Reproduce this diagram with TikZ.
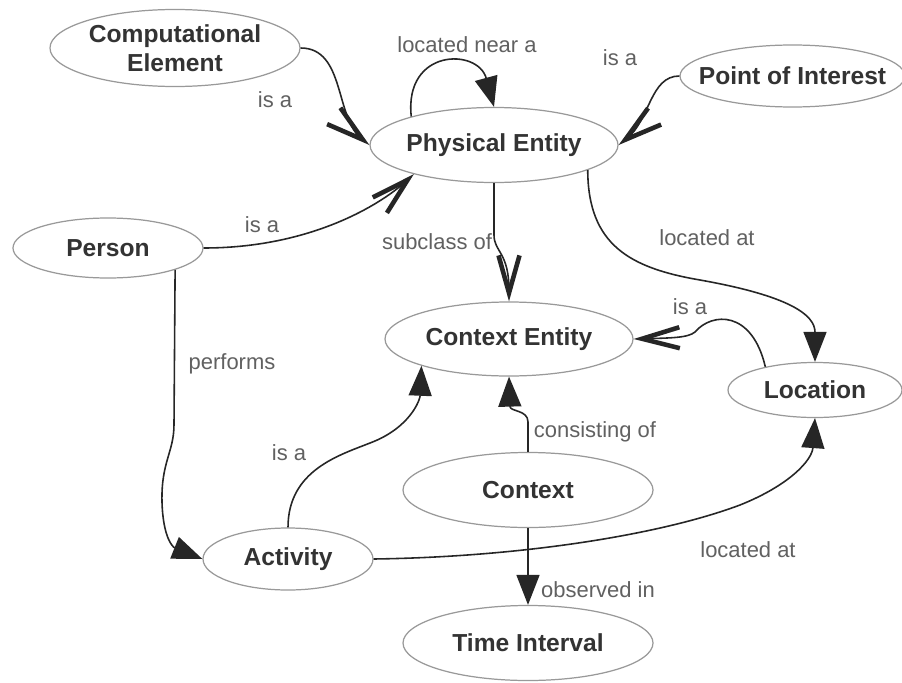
\documentclass[tikz,border=0pt]{standalone}
\usepackage{fontspec}
\setmainfont{Liberation Sans}
\usepackage{tikz}
\usetikzlibrary{shapes.geometric}
\usetikzlibrary{arrows.meta, arrows}
\definecolor{myline}{rgb}{0.6,0.6,0.6}
\definecolor{mytext}{rgb}{0.38,0.38,0.38}

\begin{document}
\begin{tikzpicture}
    % Define styles for concepts and relations
    \tikzstyle{concept}=[ellipse, draw=myline, line width=0.7pt, fill=white, inner sep=0pt, align=center, text=black!80, font=\fontsize{14}{16.5}\selectfont\bfseries]
    \tikzstyle{relation}=[line width=0.9pt, draw=black!85]
    \tikzstyle{isa}=[relation, -{Straight Barb[length=7.5mm, width=4.2mm, line width=2.6pt]}]
    \tikzstyle{prop}=[relation, -{Triangle[length=6mm, width=4.6mm]}]
    \tikzstyle{relname}=[text=mytext, font=\fontsize{12.5}{14}\selectfont]

    \useasboundingbox (0,0) rectangle (18.04,13.64);
    \fill[white] (0,0) rectangle (18.04,13.64);

    % Concepts
    \node[concept, minimum width=5cm, minimum height=1.54cm] (CE) at (3.5,12.68) {Computational\\Element};
    \node[concept, minimum width=4.5cm, minimum height=1.24cm, inner xsep=-0.3cm] (POI) at (15.85,12.12) {Point of Interest};
    \node[concept, minimum width=4.96cm, minimum height=1.5cm] (PE) at (9.88,10.74) {Physical Entity};
    \node[concept, minimum width=3.8cm, minimum height=1.2cm] (P) at (2.16,8.68) {Person};
    \node[concept, minimum width=4.96cm, minimum height=1.48cm] (CtxE) at (10.18,6.86) {Context Entity};
    \node[concept, minimum width=3.48cm, minimum height=1.1cm] (L) at (16.3,5.84) {Location};
    \node[concept, minimum width=5cm, minimum height=1.5cm] (C) at (10.56,3.84) {Context};
    \node[concept, minimum width=3.4cm, minimum height=1.24cm] (A) at (5.76,2.46) {Activity};
    \node[concept, minimum width=5cm, minimum height=1.5cm] (TI) at (10.56,0.78) {Time Interval};

    % is-a relations
    \draw[isa] (CE.east) .. controls (6.9,12.68) and (6.7,11.3) .. (PE.west);
    \draw[isa] (P.east) .. controls (6.2,8.68) and (7.6,9.54) .. (PE.200);
    \draw[isa] (POI.west) .. controls (13.0,12.12) and (13.0,11.24) .. (PE.east);
    \draw[isa] (PE.south) -- (9.88,8.94) .. controls (9.88,8.6) and (10.18,8.6) .. (CtxE.north);
    \draw[isa] (L.155) .. controls (15.04,7.44) and (14.24,7.4) .. (13.9,7.0) .. controls (13.76,6.88) and (13.4,6.88) .. (CtxE.east);

    % Other relations
    \draw[prop] (PE.161) .. controls (8.08,12.68) and (9.56,12.68) .. (PE.north);
    \draw[prop] (PE.345) .. controls (11.76,8.74) and (12.6,8.28) .. (14.0,8.04) .. controls (15.8,7.72) and (16.3,7.34) .. (L.north);
    \draw[prop] (P.342) -- (3.48,5.15) .. controls (3.48,4.6) and (3.22,4.4) .. (3.24,3.6) .. controls (3.26,2.9) and (3.45,2.7) .. (A.west);
    \draw[prop] (A.north) .. controls (5.76,4.24) and (6.8,4.54) .. (7.4,4.78) .. controls (8.2,5.08) and (8.4,5.64) .. (CtxE.197);
    \draw[prop] (C.north) -- (10.56,5.2) .. controls (10.56,5.45) and (10.2,5.4) .. (CtxE.south);
    \draw[prop] (C.south) -- (TI.north);
    \draw[prop] (A.east) .. controls (10.4,2.5) and (13.2,2.94) .. (14.8,3.54) .. controls (15.8,3.94) and (16.24,4.44) .. (L.south);

    % Relation names
    \foreach \x/\y/\txt [count=\i] in {5.5/11.64/is a, 9.34/12.74/located near a, 12.4/12.48/is a,
        5.24/9.14/is a, 8.74/8.8/subclass of, 14.14/8.88/located at, 13.8/7.5/is a,
        4.64/6.36/performs, 5.78/4.58/is a, 11.9/5.0/consisting of, 11.96/1.84/observed in,
        14.96/2.64/located at} {
        \node[relname] (rel-\i) at (\x,\y) {\txt};
    }

\end{tikzpicture}
\end{document}
